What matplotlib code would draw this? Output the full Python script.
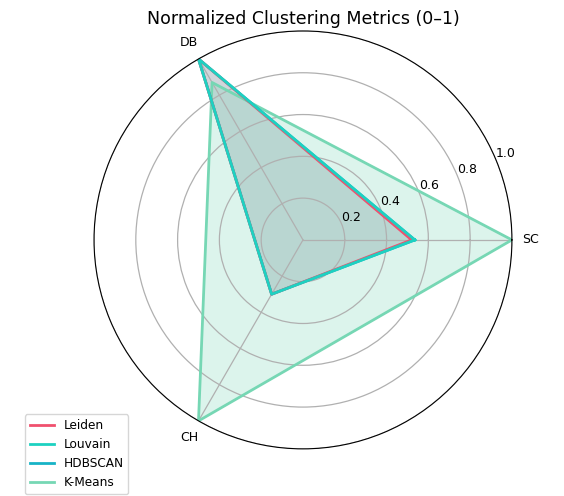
import matplotlib.pyplot as plt
import numpy as np

# metric axes and normalized scores
metrics = ['SC', 'DB', 'CH']
methods = ['Leiden', 'Louvain', 'HDBSCAN', 'K-Means']
leiden = [0.52, 1.00, 0.30]
louvain = [0.535, 1.00, 0.30]
hdbscan = [0.535, 1.00, 0.30]
kmeans = [1.00, 0.87, 1.00]
colors = ['#f0506e', '#1dd1c1', '#17b3c6', '#76d7b4']
fill_alpha = [0.2, 0.1, 0.1, 0.25]
line_z = [2.3, 2.5, 2.2, 2.1]

scores = [leiden, louvain, hdbscan, kmeans]

angles = np.linspace(0, 2 * np.pi, len(metrics), endpoint=False).tolist()
angles += angles[:1]

fig = plt.figure(figsize=[5.64, 4.96], dpi=100)
ax = fig.add_axes([0.1667, 0.0948, 0.741, 0.843], polar=True)

for name, vals, c, a, z in zip(methods, scores, colors, fill_alpha, line_z):
	v = vals + vals[:1]
	ax.plot(angles, v, color=c, linewidth=2, label=name, zorder=z)
	ax.fill(angles, v, color=c, alpha=a)

ax.set_xticks(angles[:-1])
ax.set_xticklabels(metrics, fontsize=9)
ax.tick_params(axis='x', pad=3)
ax.set_ylim(0, 1)
ax.set_yticks([0.2, 0.4, 0.6, 0.8, 1.0])
ax.set_yticklabels(['0.2', '0.4', '0.6', '0.8', '1.0'], fontsize=9)
ax.set_rlabel_position(22.5)
ax.grid(color='#b0b0b0', linewidth=0.9)

ax.set_title('Normalized Clustering Metrics (0–1)', fontsize=12.5, pad=5)

fig.legend(loc='lower left', bbox_to_anchor=(0.044, 0.004), borderaxespad=0, fontsize=8.7)

plt.savefig('out.png', dpi=100)
